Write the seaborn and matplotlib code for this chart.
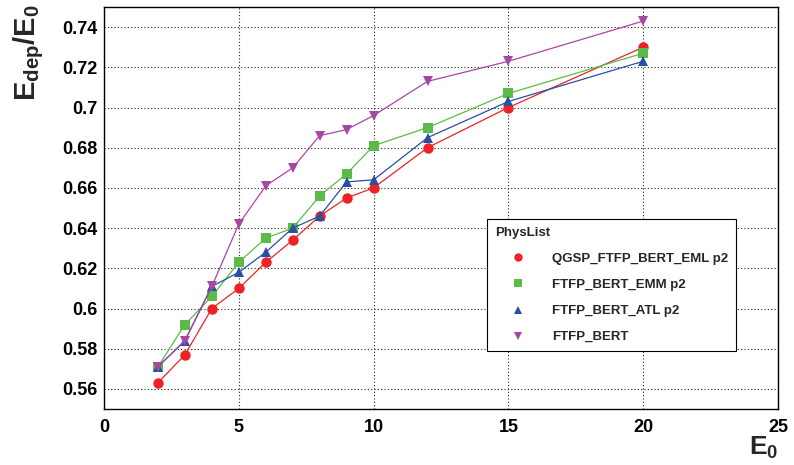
import matplotlib
matplotlib.use("Agg")
import matplotlib.pyplot as plt
import matplotlib.ticker as mtick
from matplotlib.lines import Line2D
import pandas as pd
import seaborn as sns

sns.set_theme(style="white")
plt.rcParams["font.family"] = ["Liberation Sans", "DejaVu Sans"]
plt.rcParams["font.weight"] = "bold"
plt.rcParams["mathtext.fontset"] = "custom"
plt.rcParams["mathtext.rm"] = "Liberation Sans:bold"
plt.rcParams["mathtext.bf"] = "Liberation Sans:bold"
plt.rcParams["mathtext.it"] = "Liberation Sans:bold"

E0 = [2, 3, 4, 5, 6, 7, 8, 9, 10, 12, 15, 20]

QGSP_FTFP_BERT_EML = [0.563, 0.577, 0.600, 0.610, 0.623, 0.634, 0.646, 0.655, 0.660, 0.680, 0.700, 0.730]
FTFP_BERT_EMM = [0.571, 0.592, 0.606, 0.623, 0.635, 0.640, 0.656, 0.667, 0.681, 0.690, 0.707, 0.727]
FTFP_BERT_ATL = [0.571, 0.584, 0.611, 0.618, 0.628, 0.640, 0.646, 0.663, 0.664, 0.685, 0.703, 0.723]
FTFP_BERT = [0.571, 0.584, 0.611, 0.642, 0.661, 0.670, 0.686, 0.689, 0.696, 0.713, 0.723, 0.743]

METHODS = ["QGSP_FTFP_BERT_EML p2", "FTFP_BERT_EMM p2", "FTFP_BERT_ATL p2", "FTFP_BERT"]
SERIES = [QGSP_FTFP_BERT_EML, FTFP_BERT_EMM, FTFP_BERT_ATL, FTFP_BERT]
COLORS = ["#ee2226", "#5bbb48", "#2a4ea0", "#a846a4"]
MARKERS = ["o", "s", "^", "v"]
MSIZES = [7.5, 6.5, 6.5, 7]

data = pd.DataFrame(
    [(e, v, m) for m, vals in zip(METHODS, SERIES) for e, v in zip(E0, vals)],
    columns=["E0", "ratio", "method"],
)

fig = plt.figure(figsize=(7.94, 4.65), dpi=100)
ax = fig.add_axes([104 / 794, 1 - 409 / 465, 674 / 794, 402 / 465])

for method, color, marker, ms in zip(METHODS, COLORS, MARKERS, MSIZES):
    sub = data[data["method"] == method]
    sns.lineplot(
        data=sub, x="E0", y="ratio", ax=ax, color=color, marker=marker,
        markersize=ms, markeredgewidth=0, linewidth=0.9, legend=False,
    )

ax.set_xlim(0, 25)
ax.set_ylim(0.55, 0.75)
ax.xaxis.set_major_locator(mtick.MultipleLocator(5))
ax.xaxis.set_minor_locator(mtick.MultipleLocator(1))
ax.yaxis.set_major_locator(mtick.MultipleLocator(0.02))
ax.yaxis.set_minor_locator(mtick.MultipleLocator(0.005))
ax.yaxis.set_major_formatter(mtick.FuncFormatter(lambda v, p: f"{v:.2f}".rstrip("0")))

ax.tick_params(axis="both", which="both", direction="in", colors="black", labelsize=13)
ax.tick_params(axis="y", which="major", length=13, width=1, pad=5)
ax.tick_params(axis="y", which="minor", length=7, width=1)
ax.tick_params(axis="x", which="major", length=11, width=1, pad=7)
ax.tick_params(axis="x", which="minor", length=5, width=1)
for lab in ax.get_xticklabels() + ax.get_yticklabels():
    lab.set_fontweight("bold")

ax.grid(True, which="major", linestyle=(0, (1, 2)), color="#222222", linewidth=0.8)
for sp in ax.spines.values():
    sp.set_color("black")
    sp.set_linewidth(1)

ax.set_xlabel(r"$\mathbf{E}_{\mathbf{0}}$", fontsize=19, loc="right")
ax.xaxis.set_label_coords(1.0, -0.065)
ax.set_ylabel("")
fig.text(
    46 / 794, 1 - 4 / 465, r"$\mathbf{E}_{\mathbf{dep}}\mathbf{/E}_{\mathbf{0}}$",
    fontsize=21, rotation=90, ha="right", va="top",
)

handles = [
    Line2D([], [], linestyle="none", marker=m, color=c, markersize=s * 0.8, markeredgewidth=0)
    for m, c, s in zip(MARKERS, COLORS, MSIZES)
]
leg = ax.legend(
    handles, METHODS, title="PhysList", loc="upper left",
    bbox_to_anchor=((487 - 104) / 674, (409 - 219) / 402),
    frameon=True, fancybox=False, shadow=False, framealpha=1,
    prop={"weight": "bold", "size": 9.5}, title_fontproperties={"weight": "bold", "size": 9.5},
    borderpad=0.6, labelspacing=1.05, handletextpad=0.8, borderaxespad=0,
    handlelength=3.5,
)
leg._legend_box.align = "left"
leg.get_frame().set_edgecolor("black")
leg.get_frame().set_linewidth(0.8)

fig.savefig("out.png", dpi=100)
